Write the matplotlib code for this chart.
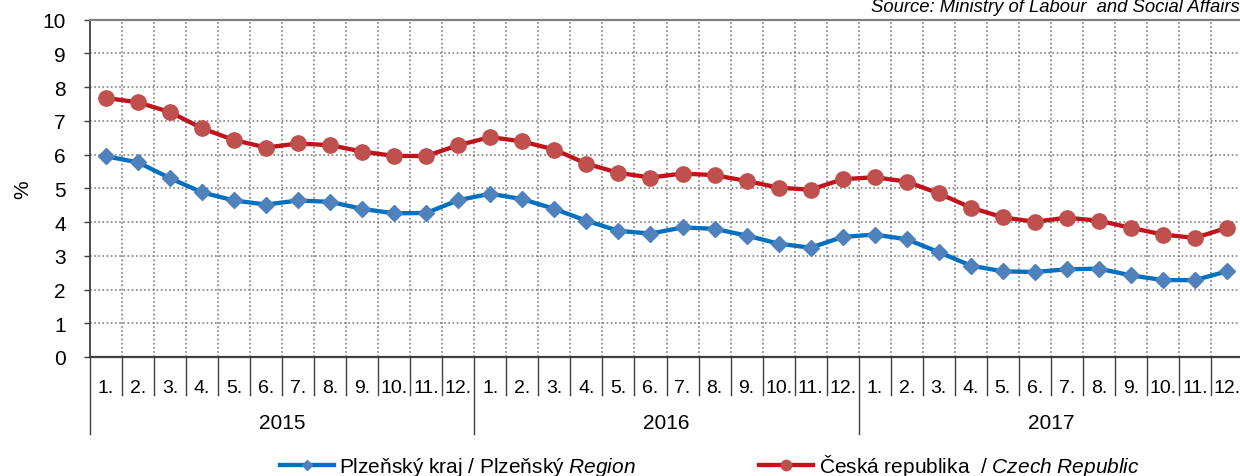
import matplotlib
matplotlib.use('Agg')
import matplotlib.pyplot as plt
import matplotlib.transforms as mtransforms
from matplotlib.lines import Line2D
import numpy as np

plt.rcParams['font.family'] = ['Liberation Sans', 'DejaVu Sans']
plt.rcParams['mathtext.fontset'] = 'custom'
plt.rcParams['mathtext.it'] = 'Liberation Sans:italic'
plt.rcParams['mathtext.rm'] = 'Liberation Sans'

years = ['2015', '2016', '2017']
months = ['1.', '2.', '3.', '4.', '5.', '6.', '7.', '8.', '9.', '10.', '11.', '12.']

# registered unemployment share, %
plzen = [5.95, 5.77, 5.30, 4.88, 4.64, 4.52, 4.64, 4.60, 4.39, 4.26, 4.27, 4.65,
         4.84, 4.68, 4.39, 4.04, 3.74, 3.66, 3.84, 3.80, 3.60, 3.36, 3.24, 3.56,
         3.63, 3.49, 3.11, 2.71, 2.54, 2.52, 2.60, 2.62, 2.42, 2.28, 2.28, 2.54]
czech = [7.68, 7.55, 7.26, 6.78, 6.43, 6.21, 6.33, 6.28, 6.09, 5.96, 5.96, 6.28,
         6.52, 6.39, 6.15, 5.73, 5.46, 5.32, 5.44, 5.39, 5.22, 5.02, 4.96, 5.27,
         5.33, 5.20, 4.85, 4.43, 4.14, 4.01, 4.13, 4.04, 3.83, 3.63, 3.53, 3.83]

label_plzen = 'Plzeňský kraj / Plzeňský $\\it{Region}$'
label_czech = 'Česká republika  / $\\it{Czech\\ Republic}$'
source = 'Source: Ministry of Labour  and Social Affairs'

W, H = 1240, 477
fig = plt.figure(figsize=(W / 100, H / 100), dpi=100)
ax = fig.add_axes([90 / W, 1 - 358 / H, 1153 / W, (358 - 20.7) / H])

n = len(plzen)
x = np.arange(n)

ax.plot(x, plzen, color='#0070C0', lw=3.1, marker='D', ms=8.5,
        mfc='#4F81BD', mec='#4F81BD', zorder=3)
ax.plot(x, czech, color='#C0141C', lw=3.1, marker='o', ms=11,
        mfc='#C0504D', mec='#C0504D', zorder=4)

ax.set_xlim(-0.5, n - 0.5)
ax.set_ylim(0, 10)
ax.set_yticks(range(0, 11))
ax.tick_params(axis='y', labelsize=15, length=4.5, width=1, color='#404040', pad=13)

# grid: dotted, vertical ones on category boundaries
for yv in range(1, 10):
    ax.axhline(yv, color='#808080', lw=1.2, ls=(0, (1, 1.5)), zorder=1)
for xb in np.arange(0.5, n - 0.5, 1):
    ax.axvline(xb, color='#808080', lw=1.2, ls=(0, (1, 1.5)), zorder=1)

ax.spines['right'].set_visible(False)
ax.spines['top'].set_color('#808080')
ax.spines['top'].set_linewidth(1.6)
ax.spines['left'].set_color('#404040')
ax.spines['left'].set_linewidth(1.3)
ax.spines['bottom'].set_color('#404040')
ax.spines['bottom'].set_linewidth(1.6)

ax.set_xticks([])
trans = mtransforms.blended_transform_factory(ax.transData, ax.transAxes)

# month labels and separators
for i in range(n):
    ax.text(i, -0.089, months[i % 12], transform=trans, ha='center', va='center',
            fontsize=14)
for xb in np.arange(-0.5, n + 0.5, 1):
    if (xb + 0.5) % 12 == 0:
        ax.plot([xb, xb], [0, -0.228], transform=trans, color='#404040', lw=1,
                clip_on=False)
    else:
        ax.plot([xb, xb], [0, -0.112], transform=trans, color='#404040', lw=1,
                clip_on=False)

for k, yr in enumerate(years):
    ax.text(12 * k + 5.5, -0.194, yr, transform=trans, ha='center', va='center',
            fontsize=15)

ax.set_ylabel('%', fontsize=15)
ax.yaxis.set_label_coords(-58 / 1153, (358 - 190) / (358 - 20.7))

fig.text(1.0, 1 - 8 / H, source, ha='right', va='center', fontsize=13.3,
         style='italic')

handles = [Line2D([], [], color='#0070C0', lw=3.1, marker='D', ms=5.5,
                  mfc='#4F81BD', mec='#4F81BD'),
           Line2D([], [], color='#C0141C', lw=3.1, marker='o', ms=7.5,
                  mfc='#C0504D', mec='#C0504D')]
fig.legend(handles, [label_plzen, label_czech], loc='center left',
           bbox_to_anchor=(280 / W, 1 - 466 / H), ncol=2, frameon=False,
           fontsize=15, handlelength=2.6, handletextpad=0.25,
           columnspacing=5.9, borderpad=0, borderaxespad=0)

fig.savefig('out.png', dpi=100)
